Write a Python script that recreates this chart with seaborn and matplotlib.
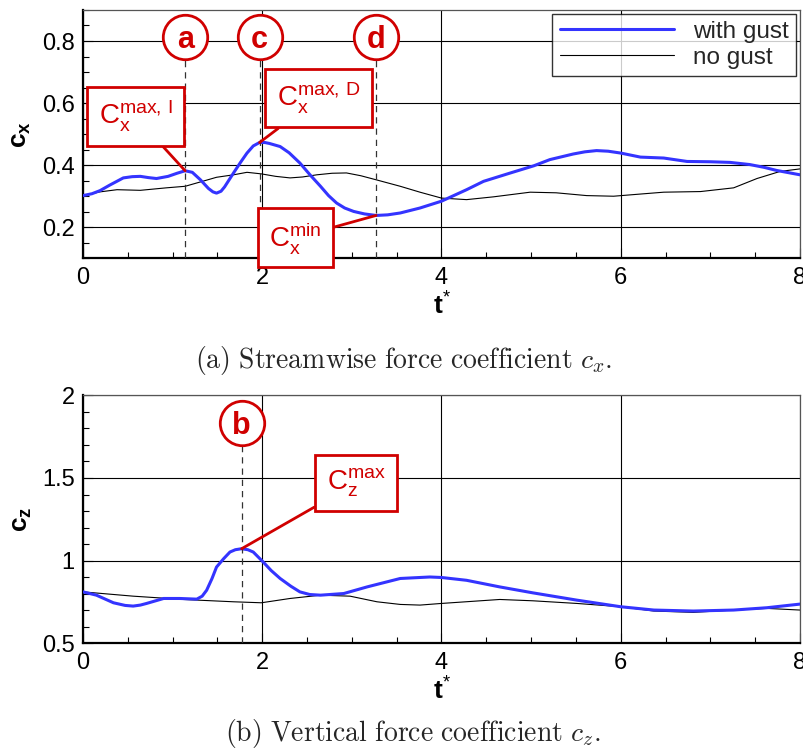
import numpy as np
import pandas as pd
import matplotlib
matplotlib.use("Agg")
import matplotlib.pyplot as plt
from matplotlib.ticker import MultipleLocator, FixedLocator
import seaborn as sns

# --- streamwise force coefficient c_x ---
t_cx_gust = [0, 0.1, 0.19, 0.3, 0.45, 0.55, 0.64, 0.73, 0.82, 0.95, 1.05, 1.14, 1.22, 1.31,
             1.4, 1.45, 1.49, 1.54, 1.58, 1.68, 1.76, 1.83, 1.9, 1.97, 2.03, 2.08, 2.2, 2.3,
             2.42, 2.53, 2.65, 2.74, 2.83, 2.92, 3.02, 3.14, 3.27, 3.4, 3.54, 3.76, 4.0,
             4.28, 4.47, 4.77, 5.03, 5.21, 5.47, 5.6, 5.73, 5.86, 6.0, 6.22, 6.48, 6.74,
             7.0, 7.22, 7.44, 7.6, 7.74, 8.0]
cx_gust = [0.302, 0.308, 0.318, 0.336, 0.359, 0.363, 0.364, 0.36, 0.357, 0.364, 0.374,
           0.382, 0.377, 0.353, 0.325, 0.314, 0.31, 0.316, 0.33, 0.375, 0.41, 0.439, 0.462,
           0.473, 0.473, 0.47, 0.46, 0.44, 0.407, 0.37, 0.332, 0.302, 0.278, 0.262, 0.251,
           0.243, 0.238, 0.24, 0.246, 0.262, 0.284, 0.321, 0.348, 0.375, 0.398, 0.418,
           0.436, 0.443, 0.447, 0.445, 0.439, 0.426, 0.423, 0.412, 0.411, 0.409, 0.402,
           0.393, 0.383, 0.369]

t_cx_ref = [0, 0.19, 0.38, 0.64, 0.93, 1.14, 1.31, 1.49, 1.68, 1.83, 1.99, 2.15, 2.31,
            2.45, 2.61, 2.78, 2.94, 3.1, 3.27, 3.54, 3.76, 4.0, 4.28, 4.58, 4.99, 5.28,
            5.62, 5.92, 6.22, 6.48, 6.89, 7.26, 7.52, 7.78, 8.0]
cx_ref = [0.302, 0.314, 0.321, 0.319, 0.327, 0.332, 0.346, 0.361, 0.369, 0.377, 0.372,
          0.364, 0.359, 0.362, 0.369, 0.374, 0.375, 0.366, 0.353, 0.332, 0.313, 0.294,
          0.289, 0.298, 0.313, 0.311, 0.302, 0.3, 0.307, 0.313, 0.315, 0.327, 0.357,
          0.38, 0.388]

# --- vertical force coefficient c_z ---
t_cz_gust = [0, 0.15, 0.34, 0.47, 0.56, 0.64, 0.71, 0.9, 1.08, 1.27, 1.33, 1.38, 1.44,
             1.49, 1.57, 1.64, 1.7, 1.77, 1.84, 1.9, 2.01, 2.1, 2.2, 2.32, 2.42, 2.53,
             2.65, 2.91, 3.17, 3.54, 3.87, 4.0, 4.28, 4.65, 5.02, 5.51, 6.0, 6.37, 6.81,
             7.26, 7.63, 8.0]
cz_gust = [0.811, 0.791, 0.745, 0.729, 0.725, 0.731, 0.741, 0.771, 0.771, 0.767, 0.785,
           0.821, 0.892, 0.961, 1.012, 1.052, 1.066, 1.072, 1.066, 1.052, 0.992, 0.94,
           0.892, 0.845, 0.811, 0.795, 0.791, 0.801, 0.841, 0.892, 0.901, 0.898, 0.881,
           0.841, 0.805, 0.761, 0.721, 0.701, 0.695, 0.701, 0.715, 0.737]

t_cz_ref = [0, 0.56, 1.12, 1.68, 1.99, 2.31, 2.65, 2.98, 3.28, 3.54, 3.76, 4.0, 4.65,
            5.02, 5.51, 6.0, 6.37, 6.81, 7.26, 7.63, 8.0]
cz_ref = [0.811, 0.785, 0.765, 0.751, 0.745, 0.771, 0.791, 0.785, 0.751, 0.735, 0.731,
          0.741, 0.765, 0.757, 0.741, 0.721, 0.695, 0.687, 0.701, 0.711, 0.701]

# event instants marked on the curves
events_cx = {"a": 1.14, "c": 1.97, "d": 3.27}
events_cz = {"b": 1.77}

RED = "#d00000"
BLUE = "#3434ff"

sns.set_theme(style="white")
plt.rcParams.update({
    "font.family": ["Liberation Sans", "DejaVu Sans"],
    "mathtext.fontset": "custom",
    "mathtext.rm": "Liberation Sans",
    "mathtext.it": "Liberation Sans:italic",
    "mathtext.bf": "Liberation Sans:bold",
})

fig = plt.figure(figsize=(8.04, 7.5), dpi=100)
ax1 = fig.add_axes([0.1032, 0.6556, 0.8918, 0.3311])
ax2 = fig.add_axes([0.1032, 0.1423, 0.8918, 0.3306])

df_cx = pd.concat([
    pd.DataFrame({"t": t_cx_gust, "c": cx_gust, "case": "with gust"}),
    pd.DataFrame({"t": t_cx_ref, "c": cx_ref, "case": "no gust"}),
])
df_cz = pd.concat([
    pd.DataFrame({"t": t_cz_gust, "c": cz_gust, "case": "with gust"}),
    pd.DataFrame({"t": t_cz_ref, "c": cz_ref, "case": "no gust"}),
])


def draw_panel(ax, df, ylim, yticks, yminor, ylabel, legend):
    for case, color, lw, z in [("with gust", BLUE, 2.2, 3), ("no gust", "black", 0.8, 2)]:
        sub = df[df["case"] == case]
        sns.lineplot(data=sub, x="t", y="c", color=color, linewidth=lw, ax=ax,
                     label=case if legend else None, estimator=None, sort=False, zorder=z)
    ax.set_xlim(0, 8)
    ax.set_ylim(*ylim)
    ax.xaxis.set_major_locator(FixedLocator([0, 2, 4, 6, 8]))
    ax.xaxis.set_minor_locator(MultipleLocator(0.5))
    ax.yaxis.set_major_locator(FixedLocator(yticks))
    ax.yaxis.set_minor_locator(MultipleLocator(yminor))
    ax.grid(True, which="major", color="black", linewidth=0.8)
    ax.tick_params(which="both", direction="in", left=True, bottom=True,
                   labelsize=17, pad=6, colors="black")
    ax.tick_params(which="major", length=7, width=0.8)
    ax.tick_params(which="minor", length=4.5, width=0.8)
    for side in ("left", "bottom"):
        ax.spines[side].set_linewidth(1.6)
        ax.spines[side].set_color("black")
    for side in ("top", "right"):
        ax.spines[side].set_linewidth(0.9)
        ax.spines[side].set_color("#555555")
    ax.set_xlabel(r"$\mathbf{t}^{*}$", fontsize=19, labelpad=3, color="black")
    ax.set_ylabel(ylabel, fontsize=19, labelpad=6, color="black")


draw_panel(ax1, df_cx, (0.1, 0.9), [0.2, 0.4, 0.6, 0.8], 0.05,
           r"$\mathbf{c}_\mathbf{x}$", True)
draw_panel(ax2, df_cz, (0.5, 2.0), [0.5, 1, 1.5, 2], 0.1,
           r"$\mathbf{c}_\mathbf{z}$", False)
ax1.set_yticklabels(["0.2", "0.4", "0.6", "0.8"])
ax2.set_yticklabels(["0.5", "1", "1.5", "2"])

leg = ax1.legend(loc="upper right", fontsize=17.5, frameon=True, fancybox=False,
                 handlelength=4.7, handletextpad=0.8, borderpad=0.3,
                 labelspacing=0.15, borderaxespad=0.15)
leg.get_frame().set_edgecolor("black")
leg.get_frame().set_linewidth(1.0)
leg.set_zorder(10)


def mark_events(ax, events, y_circle, ybottom):
    for letter, te in events.items():
        ax.plot([te, te], [ybottom, y_circle], color="#333333", linestyle=(0, (5, 4)),
                linewidth=0.9, zorder=4)
        ax.plot([te], [y_circle], marker="o", markersize=32, markerfacecolor="white",
                markeredgecolor=RED, markeredgewidth=2.0, zorder=6, clip_on=False)
        ax.text(te, y_circle, letter, color=RED, fontsize=22, fontweight="bold",
                ha="center", va="center_baseline", zorder=7)


mark_events(ax1, events_cx, 0.814, 0.1)
mark_events(ax2, events_cz, 1.835, 0.5)


def callout(ax, text, xy, xytext):
    ax.annotate(text, xy=xy, xytext=xytext, color=RED, fontsize=20,
                ha="center", va="center", zorder=8,
                bbox=dict(boxstyle="square,pad=0.42", fc="white", ec=RED, lw=2.0),
                arrowprops=dict(arrowstyle="-", color=RED, lw=2.0,
                                shrinkA=0, shrinkB=0))


ta, tc, td = events_cx["a"], events_cx["c"], events_cx["d"]
tb = events_cz["b"]
callout(ax1, r"$\mathrm{C}_\mathrm{x}^\mathrm{max,\/I}$",
        (ta, np.interp(ta, t_cx_gust, cx_gust)), (0.586, 0.557))
callout(ax1, r"$\mathrm{C}_\mathrm{x}^\mathrm{max,\/D}$",
        (tc, np.interp(tc, t_cx_gust, cx_gust)), (2.626, 0.616))
callout(ax1, r"$\mathrm{C}_\mathrm{x}^\mathrm{min}$",
        (td, np.interp(td, t_cx_gust, cx_gust)), (2.37, 0.166))
callout(ax2, r"$\mathrm{C}_\mathrm{z}^\mathrm{max}$",
        (tb, np.interp(tb, t_cz_gust, cz_gust)), (3.05, 1.469))

fig.text(0.5025, 1 - 368 / 750,
         r"$\mathrm{(a)\ Streamwise\ force\ coefficient}\ c_x.$",
         ha="center", va="baseline", fontsize=20, math_fontfamily="cm")
fig.text(0.514, 1 - 741 / 750,
         r"$\mathrm{(b)\ Vertical\ force\ coefficient}\ c_z.$",
         ha="center", va="baseline", fontsize=20, math_fontfamily="cm")

fig.savefig("out.png", dpi=100)
